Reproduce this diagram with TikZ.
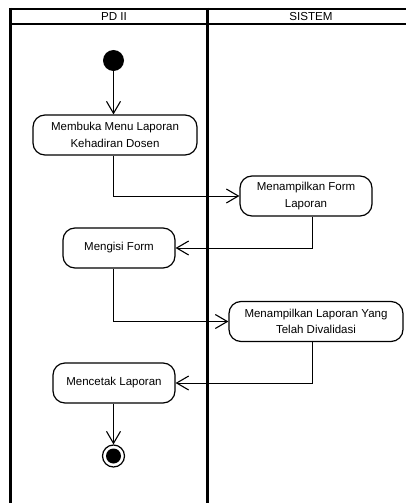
\documentclass[tikz,border=0pt]{standalone}
\usepackage{fontspec}
\setmainfont{Liberation Sans}
\usetikzlibrary{positioning}
\usetikzlibrary{arrows.meta}
\tikzstyle{Line} = [draw, line width=1pt,
    -{Straight Barb[length=12pt, width=14pt, line width=1.1pt]}]
\tikzstyle{act} = [draw, rectangle, rounded corners=12pt,
    minimum height=40pt, text centered, align=center, fill=white,
    line width=1.2pt, font=\fontsize{11.5}{16.5}\selectfont]
\tikzstyle{begin} = [circle, fill=black, minimum size=21pt, inner sep=0pt]
\tikzstyle{finish} = [circle, draw, line width=1.2pt, minimum size=22pt,
    inner sep=0pt, path picture={
    \fill (path picture bounding box.center) circle (7.5pt);}]
\tikzstyle{lane} = [draw, line width=2.6pt]
\tikzstyle{head} = [font=\fontsize{11.6}{13}\selectfont, inner sep=0pt]

\begin{document}
\begin{tikzpicture}[x=1pt, y=-1pt]
     % ><>< =================== ><>< %
     % ><><     Swim lanes      ><>< %
     % ><>< =================== ><>< %
     \path [use as bounding box, clip] (0,0) rectangle (406,503);
     \fill [white] (0,0) rectangle (406,503);
     \path [lane] (10.5,9) -- (420,9);
     \path [lane] (10.5,24) -- (420,24);
     \path [lane] (10.5,8) -- (10.5,510);
     \path [lane] (207.5,8) -- (207.5,510);
     \node [head] (lane1) at (114,16.5) {PD II};
     \node [head] (lane2) at (311,16.5) {SISTEM};
     % ><>< =================== ><>< %
     % ><><     Place nodes     ><>< %
     % ><>< =================== ><>< %
     \node [begin] (start) at (113.5,60.5) {};
     \node [act, minimum width=164pt] (act1) at (115,135)
        {Membuka Menu Laporan\\Kehadiran Dosen};
     \node [act, minimum width=132pt] (act2) at (306,196)
        {Menampilkan Form\\Laporan};
     \node [act, minimum width=112pt] (act3) at (119,248)
        {Mengisi Form};
     \node [act, minimum width=174pt] (act4) at (316,321.5)
        {Menampilkan Laporan Yang\\Telah Divalidasi};
     \node [act, minimum width=122pt] (act5) at (114,383)
        {Mencetak Laporan};
     \node [finish] (stop) at (113.5,456) {};
     \coordinate (rail) at (312,0);
     % ><>< =================== ><>< %
     % ><><     Draw lines.     ><>< %
     % ><>< =================== ><>< %
     \path [Line] (start) -- (act1.north -| start);
     \path [Line] (act1.south -| start) |- (act2.west);
     \path [Line] (act2.south -| rail) |- (act3.east);
     \path [Line] (act3.south -| start) |- (act4.west);
     \path [Line] (act4.south -| rail) |- (act5.east);
     \path [Line] (act5.south -| start) -- (stop);
\end{tikzpicture}
\end{document}
